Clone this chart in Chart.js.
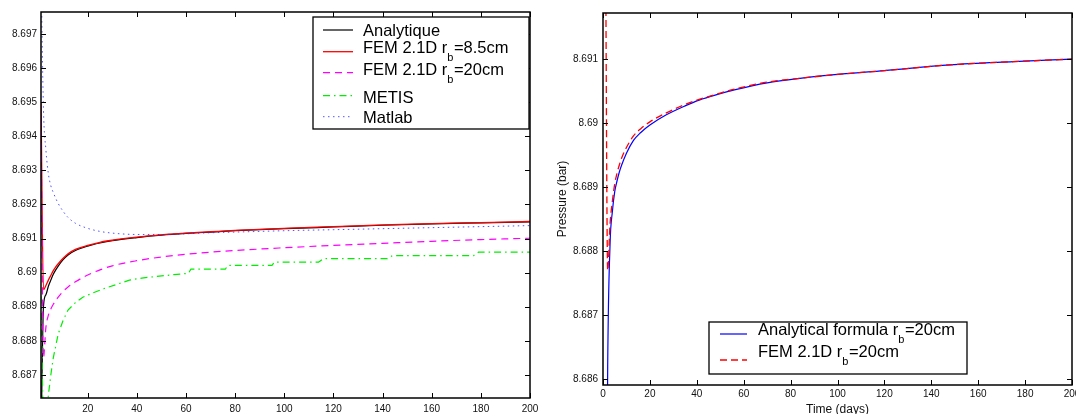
<!DOCTYPE html>
<html>
<head>
<meta charset="utf-8">
<script src="https://cdn.jsdelivr.net/npm/chart.js@4.4.1/dist/chart.umd.min.js"></script>
<style>
html, body { margin: 0; padding: 0; background: #fff; overflow: hidden; }
#left { position: absolute; left: 0; top: 0; }
#right { position: absolute; left: 545px; top: 0; }
</style>
</head>
<body>
<canvas id="left" width="545" height="414"></canvas>
<canvas id="right" width="531" height="414"></canvas>
<script>
// left plot data (pressure vs time)
const leftDays = [1, 2, 3, 4, 5, 6, 7, 8, 10, 12, 15, 20, 25, 30, 40, 50, 60, 70, 80, 100, 120, 140, 160, 180, 200];
const analytique = [8.6850, 8.6890, 8.68935, 8.6896, 8.68978, 8.68995, 8.69008, 8.69019, 8.69038, 8.69052, 8.69065, 8.69078, 8.69087, 8.69094, 8.69103, 8.69110, 8.69115, 8.69119, 8.69123, 8.69129, 8.69134, 8.69139, 8.69143, 8.69146, 8.69149];
const fem85 = [8.6950, 8.6895, 8.68962, 8.68978, 8.68992, 8.69006, 8.69017, 8.69026, 8.69042, 8.69055, 8.69068, 8.69080, 8.69089, 8.69095, 8.69104, 8.69111, 8.69116, 8.69120, 8.69124, 8.69130, 8.69135, 8.69140, 8.69144, 8.69147, 8.69150];
const fem20 = [8.6945, 8.6875, 8.6884, 8.68875, 8.68893, 8.68907, 8.68918, 8.68928, 8.68945, 8.68958, 8.68973, 8.68993, 8.69008, 8.69020, 8.69035, 8.69046, 8.69054, 8.69060, 8.69065, 8.69073, 8.69080, 8.69086, 8.69092, 8.69097, 8.69101];
const matlab = [8.6990, 8.6948, 8.6936, 8.6929, 8.69255, 8.69235, 8.69218, 8.69203, 8.69180, 8.69162, 8.69145, 8.69130, 8.69121, 8.69116, 8.69112, 8.69112, 8.69114, 8.69117, 8.69119, 8.69123, 8.69126, 8.69129, 8.69132, 8.69135, 8.69138];
const metisDays = [1, 2, 3, 4, 5, 6, 8, 10, 12, 15, 18, 22, 27, 32, 37, 42, 47, 55, 61, 62, 76, 77, 95, 96, 114, 116, 142, 144, 177, 179, 200];
const metis = [8.6893, 8.6850, 8.6856, 8.6864, 8.6870, 8.6875, 8.6882, 8.6886, 8.6889, 8.68912, 8.68928, 8.68940, 8.68954, 8.68966, 8.68978, 8.68984, 8.68988, 8.68994, 8.68998, 8.69010, 8.69010, 8.69021, 8.69021, 8.69031, 8.69031, 8.69041, 8.69041, 8.69050, 8.69050, 8.69060, 8.69060];
const leftNames = ["Analytique", "FEM 2.1D r_b=8.5cm", "FEM 2.1D r_b=20cm", "METIS", "Matlab"];
const leftXTicks = [20, 40, 60, 80, 100, 120, 140, 160, 180, 200];
const leftYTicks = [8.687, 8.688, 8.689, 8.690, 8.691, 8.692, 8.693, 8.694, 8.695, 8.696, 8.697];

// right plot data
const rightDays = [1, 2, 3, 4, 5, 6, 7, 8, 10, 13, 16, 20, 27, 35, 41, 50, 56, 70, 84, 100, 120, 148, 175, 200];
const analytical = [8.6800, 8.6862, 8.6881, 8.68862, 8.68893, 8.6891, 8.68924, 8.68935, 8.68953, 8.68973, 8.68985, 8.68997, 8.69013, 8.69027, 8.69036, 8.69046, 8.69052, 8.69063, 8.69070, 8.69076, 8.69082, 8.69091, 8.69096, 8.69100];
const femRight = [8.6935, 8.6877, 8.68842, 8.68878, 8.68905, 8.68922, 8.68935, 8.68946, 8.68962, 8.68980, 8.68991, 8.69002, 8.69016, 8.69029, 8.69037, 8.69047, 8.69053, 8.69064, 8.6907, 8.69076, 8.69082, 8.69091, 8.69096, 8.691];
const rightNames = ["Analytical formula r_b=20cm", "FEM 2.1D r_b=20cm"];
const rightXTicks = [0, 20, 40, 60, 80, 100, 120, 140, 160, 180, 200];
const rightYTicks = [8.686, 8.687, 8.688, 8.689, 8.690, 8.691];

const FONT = '"Liberation Sans", Arial, Helvetica, sans-serif';
Chart.defaults.font.family = FONT;
Chart.defaults.color = "#111";

function pairs(xs, ys) {
    return xs.map((x, i) => ({ x: x, y: ys[i] }));
}

function fmt(v) {
    return Number(v.toFixed(3)).toString();
}

// matlab style box with inward ticks on all four sides
const boxPlugin = {
    id: "matlabBox",
    afterDatasetsDraw(chart) {
        const { ctx, chartArea: a, scales } = chart;
        ctx.save();
        ctx.strokeStyle = "#000";
        ctx.lineWidth = 1;
        ctx.beginPath();
        scales.x.ticks.forEach(t => {
            const px = Math.round(scales.x.getPixelForValue(t.value)) + 0.5;
            ctx.moveTo(px, a.bottom); ctx.lineTo(px, a.bottom - 5);
            ctx.moveTo(px, a.top); ctx.lineTo(px, a.top + 5);
        });
        scales.y.ticks.forEach(t => {
            const py = Math.round(scales.y.getPixelForValue(t.value)) + 0.5;
            ctx.moveTo(a.left, py); ctx.lineTo(a.left + 5, py);
            ctx.moveTo(a.right, py); ctx.lineTo(a.right - 5, py);
        });
        ctx.stroke();
        ctx.lineWidth = 1.5;
        ctx.strokeRect(a.left, a.top, a.right - a.left, a.bottom - a.top);
        ctx.restore();
    }
};

// legend with subscript (label text "r_b" -> r with subscript b)
const legendPlugin = {
    id: "subLegend",
    afterDraw(chart, args, o) {
        const ctx = chart.ctx;
        const [x1, y1, x2, y2] = o.box;
        ctx.save();
        ctx.fillStyle = "#fff";
        ctx.fillRect(x1, y1, x2 - x1, y2 - y1);
        ctx.strokeStyle = "#000";
        ctx.lineWidth = 1.3;
        ctx.strokeRect(x1, y1, x2 - x1, y2 - y1);
        chart.data.datasets.forEach((ds, i) => {
            const ly = o.lines[i];
            ctx.strokeStyle = ds.borderColor;
            ctx.lineWidth = ds.borderWidth;
            ctx.setLineDash(ds.borderDash || []);
            ctx.beginPath();
            ctx.moveTo(o.sample[0], ly);
            ctx.lineTo(o.sample[1], ly);
            ctx.stroke();
            ctx.setLineDash([]);

            const parts = ds.label.split("_");
            const base = o.texts[i];
            let x = o.textX;
            ctx.fillStyle = "#000";
            ctx.textBaseline = "alphabetic";
            ctx.textAlign = "left";
            ctx.font = "16.5px " + FONT;
            ctx.fillText(parts[0], x, base);
            x += ctx.measureText(parts[0]).width;
            if (parts.length > 1) {
                const sub = parts[1].charAt(0);
                const rest = parts[1].slice(1);
                ctx.font = "11px " + FONT;
                ctx.fillText(sub, x, base + 8);
                x += ctx.measureText(sub).width + 0.5;
                ctx.font = "16.5px " + FONT;
                ctx.fillText(rest, x, base);
            }
        });
        ctx.restore();
    }
};

function fixScale(size, key) {
    return function (scale) {
        scale[key] = size;
        scale.paddingLeft = 0;
        scale.paddingRight = 0;
        scale.paddingTop = 0;
        scale.paddingBottom = 0;
    };
}

function setTicks(values) {
    return function (scale) {
        scale.ticks = values.map(v => ({ value: v }));
    };
}

function lineSet(label, data, color, width, dash, order, smooth) {
    return {
        label: label,
        data: data,
        borderColor: color,
        backgroundColor: color,
        borderWidth: width,
        borderDash: dash,
        pointRadius: 0,
        fill: false,
        order: order,
        tension: 0,
        cubicInterpolationMode: smooth ? "monotone" : "default"
    };
}

new Chart(document.getElementById("left").getContext("2d"), {
    type: "line",
    data: {
        datasets: [
            lineSet(leftNames[0], pairs(leftDays, analytique), "#000000", 1.2, [], 5, true),
            lineSet(leftNames[1], pairs(leftDays, fem85), "#ff0000", 1.3, [], 4, true),
            lineSet(leftNames[2], pairs(leftDays, fem20), "#ff00ff", 1.2, [7, 5], 3, true),
            lineSet(leftNames[3], pairs(metisDays, metis), "#00ee00", 1.2, [7, 4, 1.5, 4], 2, false),
            lineSet(leftNames[4], pairs(leftDays, matlab), "rgba(40,40,255,0.8)", 1, [1.5, 3.5], 1, true)
        ]
    },
    options: {
        responsive: false,
        animation: false,
        devicePixelRatio: 1,
        layout: { padding: { left: 0, top: 12, right: 15, bottom: 0 } },
        plugins: {
            legend: { display: false },
            tooltip: { enabled: false },
            subLegend: {
                box: [313, 17, 529, 129],
                lines: [30, 51.7, 72.7, 95.7, 116.7],
                texts: [36, 52.7, 75, 103, 123],
                sample: [323, 353],
                textX: 363
            }
        },
        scales: {
            x: {
                type: "linear",
                min: 1,
                max: 200,
                grid: { display: false, drawTicks: false },
                border: { display: false },
                afterBuildTicks: setTicks(leftXTicks),
                afterFit: fixScale(16, "height"),
                ticks: { padding: 5, font: { size: 10 }, maxRotation: 0, autoSkip: false }
            },
            y: {
                type: "linear",
                min: 8.68632,
                max: 8.69765,
                grid: { display: false, drawTicks: false },
                border: { display: false },
                afterBuildTicks: setTicks(leftYTicks),
                afterFit: fixScale(41, "width"),
                ticks: { padding: 4, font: { size: 10 }, callback: v => fmt(v) }
            }
        }
    },
    plugins: [boxPlugin, legendPlugin]
});

new Chart(document.getElementById("right").getContext("2d"), {
    type: "line",
    data: {
        datasets: [
            lineSet(rightNames[0], pairs(rightDays, analytical), "#0000ff", 1.2, [], 2, true),
            lineSet(rightNames[1], pairs(rightDays, femRight), "#ff0000", 1.3, [7, 4], 1, true)
        ]
    },
    options: {
        responsive: false,
        animation: false,
        devicePixelRatio: 1,
        layout: { padding: { left: 0, top: 13, right: 4, bottom: 0 } },
        plugins: {
            legend: { display: false },
            tooltip: { enabled: false },
            subLegend: {
                box: [164, 322, 422, 374],
                lines: [334, 360],
                texts: [335, 357],
                sample: [175, 202],
                textX: 213
            }
        },
        scales: {
            x: {
                type: "linear",
                min: 0,
                max: 200,
                grid: { display: false, drawTicks: false },
                border: { display: false },
                afterBuildTicks: setTicks(rightXTicks),
                afterFit: fixScale(29, "height"),
                title: { display: true, text: "Time (days)", font: { size: 12 }, padding: { top: 0, bottom: -3 } },
                ticks: { padding: 3, font: { size: 10 }, maxRotation: 0, autoSkip: false }
            },
            y: {
                type: "linear",
                min: 8.68591,
                max: 8.69172,
                grid: { display: false, drawTicks: false },
                border: { display: false },
                afterBuildTicks: setTicks(rightYTicks),
                afterFit: fixScale(58, "width"),
                title: { display: true, text: "Pressure (bar)", font: { size: 12 }, padding: { top: 10, bottom: 0 } },
                ticks: { padding: 5, font: { size: 10 }, callback: v => fmt(v) }
            }
        }
    },
    plugins: [boxPlugin, legendPlugin]
});
</script>
</body>
</html>
